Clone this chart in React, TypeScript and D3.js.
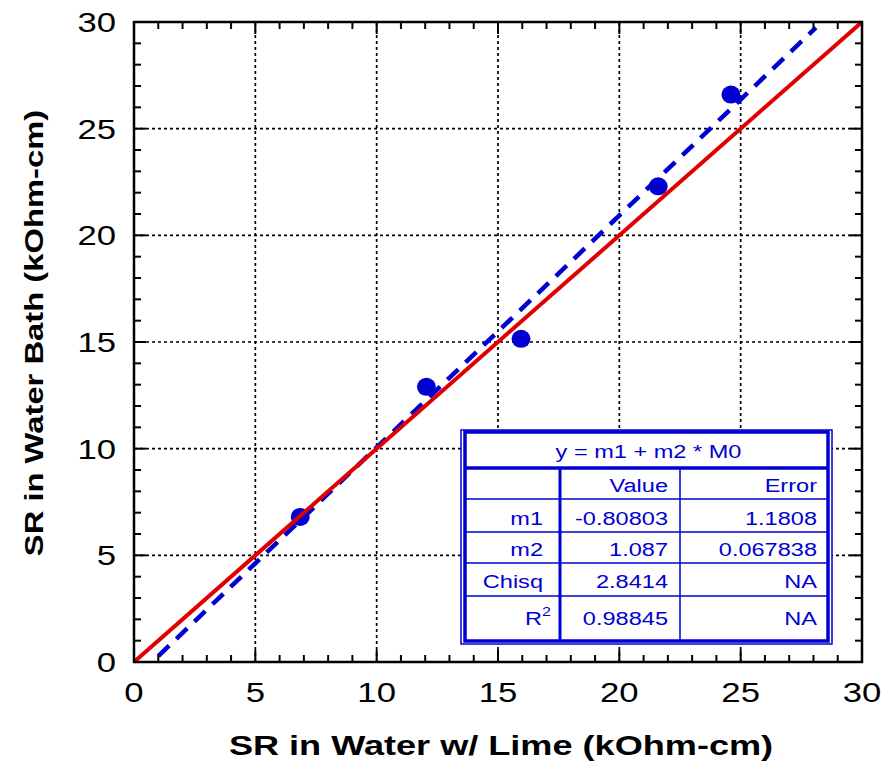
import React from "react";
import * as d3 from "d3";

// ---------- data ----------
const xPoints = [6.85, 12.05, 15.95, 21.6, 24.6];
const yPoints = [6.8, 12.9, 15.15, 22.3, 26.6];
const fitM1 = -0.80803;
const fitM2 = 1.087;
const fitRange = [1.0, 28.1];
const identityRange = [0, 30];
const xTicks = [0, 5, 10, 15, 20, 25, 30];
const yTicks = [0, 5, 10, 15, 20, 25, 30];
const minorTicks = d3.range(0, 31, 1);
const xTitle = "SR in Water w/ Lime (kOhm-cm)";
const yTitle = "SR in Water Bath (kOhm-cm)";
const tableHeader = "y = m1 + m2 * M0";
const tableColumns = ["", "Value", "Error"];
const tableRowLabels = ["m1", "m2", "Chisq", "R2"];
const tableValues = ["-0.80803", "1.087", "2.8414", "0.98845"];
const tableErrors = ["1.1808", "0.067838", "NA", "NA"];

const FONT = "'Liberation Sans', Arial, Helvetica, sans-serif";
const STRETCH = 1.24;
const BLUE = "#0000d0";
const RED = "#e00000";

function T({ x, y, size, anchor = "start", weight = "normal", fill = "#000", rotate = 0, stretch = STRETCH, children }: any) {
  return (
    <text
      transform={`translate(${x},${y}) rotate(${rotate}) scale(${stretch},1)`}
      fontFamily={FONT}
      fontSize={size}
      fontWeight={weight}
      textAnchor={anchor}
      fill={fill}
    >
      {children}
    </text>
  );
}

export default function App() {
  const W = 883, H = 769;
  const L = 134, R = 862, TOP = 22, B = 662;
  const x = d3.scaleLinear().domain([0, 30]).range([L, R]);
  const y = d3.scaleLinear().domain([0, 30]).range([B, TOP]);

  const line = d3.line<number>().x((v) => x(v)).y((v) => y(fitM1 + fitM2 * v));
  const idLine = d3.line<number>().x((v) => x(v)).y((v) => y(v));

  const gridVals = xTicks.filter((v) => v > 0 && v < 30);
  const majorSet = new Set(xTicks);

  // table layout
  const tL = 465, tR = 828, tT = 432, tB = 641;
  const headerB = 468;
  const rowLines = [499, 532, 563, 596];
  const col1 = 560, col2 = 680;
  const rowBase = [492, 525, 556, 588, 625];
  const c0 = 543, c1 = 668, c2 = 817;

  return (
    <svg width={W} height={H} style={{ position: "absolute", left: 0, top: 0, background: "#fff" }}>
      <rect x={0} y={0} width={W} height={H} fill="#fff" />
      {/* grid */}
      <g stroke="#000" strokeWidth={1.7} strokeDasharray="3 3">
        {gridVals.map((v) => (
          <line key={"gx" + v} x1={x(v)} x2={x(v)} y1={y(0)} y2={y(30)} />
        ))}
        {yTicks.filter((v) => v > 0 && v < 30).map((v) => (
          <line key={"gy" + v} x1={x(0)} x2={x(30)} y1={y(v)} y2={y(v)} />
        ))}
      </g>

      {/* points */}
      <g fill={BLUE}>
        {xPoints.map((v, i) => (
          <ellipse key={i} cx={x(v)} cy={y(yPoints[i])} rx={9.5} ry={9} />
        ))}
      </g>

      {/* fit line */}
      <path
        d={line(fitRange) || ""}
        fill="none"
        stroke={BLUE}
        strokeWidth={4.5}
        strokeDasharray="15 10"
      />
      {/* identity line */}
      <path d={idLine(identityRange) || ""} fill="none" stroke={RED} strokeWidth={4} />

      {/* ticks */}
      <g stroke="#000" strokeWidth={2}>
        {minorTicks.map((v) => {
          const len = majorSet.has(v) ? 12 : 7;
          return (
            <g key={"t" + v}>
              <line x1={x(v)} x2={x(v)} y1={B} y2={B - len} />
              <line x1={x(v)} x2={x(v)} y1={TOP} y2={TOP + len} />
              <line x1={L} x2={L + len} y1={y(v)} y2={y(v)} />
              <line x1={R} x2={R - len} y1={y(v)} y2={y(v)} />
            </g>
          );
        })}
      </g>
      <rect x={L} y={TOP} width={R - L} height={B - TOP} fill="none" stroke="#000" strokeWidth={2.5} />

      {/* tick labels */}
      {xTicks.map((v) => (
        <T key={"xl" + v} x={x(v)} y={702} size={28} anchor="middle">
          {v}
        </T>
      ))}
      {yTicks.map((v) => (
        <T key={"yl" + v} x={116} y={y(v) + 10} size={28} anchor="end">
          {v}
        </T>
      ))}

      {/* axis titles */}
      <T x={501} y={755} size={28} anchor="middle" weight="bold" stretch={1.29}>
        {xTitle}
      </T>
      <T x={43} y={333} size={26} anchor="middle" weight="bold" rotate={-90} stretch={1.26}>
        {yTitle}
      </T>

      {/* table */}
      <g>
        <rect x={461} y={430} width={371} height={214} fill="#fff" stroke={BLUE} strokeWidth={1.5} />
        <rect x={tL} y={tT} width={tR - tL} height={tB - tT} fill="#fff" stroke={BLUE} strokeWidth={3.5} />
        <line x1={tL} x2={tR} y1={headerB} y2={headerB} stroke={BLUE} strokeWidth={3.5} />
        {rowLines.map((v) => (
          <line key={"rl" + v} x1={tL} x2={tR} y1={v} y2={v} stroke={BLUE} strokeWidth={1.5} />
        ))}
        <line x1={col1} x2={col1} y1={headerB} y2={tB} stroke={BLUE} strokeWidth={3} />
        <line x1={col2} x2={col2} y1={headerB} y2={tB} stroke={BLUE} strokeWidth={1.5} />
        <T x={(tL + tR) / 2 + 2} y={458} size={19} anchor="middle" fill={BLUE}>
          {tableHeader}
        </T>
        <T x={c0} y={rowBase[0]} size={19} anchor="end" fill={BLUE}>{tableColumns[0]}</T>
        <T x={c1} y={rowBase[0]} size={19} anchor="end" fill={BLUE}>{tableColumns[1]}</T>
        <T x={c2} y={rowBase[0]} size={19} anchor="end" fill={BLUE}>{tableColumns[2]}</T>
        {tableRowLabels.map((lab, i) => (
          <g key={"row" + i}>
            {lab === "R2" ? (
              <text
                transform={`translate(${c0 + 8},${rowBase[i + 1]}) scale(${STRETCH},1)`}
                fontFamily={FONT}
                fontSize={19}
                textAnchor="end"
                fill={BLUE}
              >
                R<tspan fontSize={13} dy={-9}>2</tspan>
              </text>
            ) : (
              <T x={c0} y={rowBase[i + 1]} size={19} anchor="end" fill={BLUE}>
                {lab}
              </T>
            )}
            <T x={c1} y={rowBase[i + 1]} size={19} anchor="end" fill={BLUE}>
              {tableValues[i]}
            </T>
            <T x={c2} y={rowBase[i + 1]} size={19} anchor="end" fill={BLUE}>
              {tableErrors[i]}
            </T>
          </g>
        ))}
      </g>
    </svg>
  );
}
